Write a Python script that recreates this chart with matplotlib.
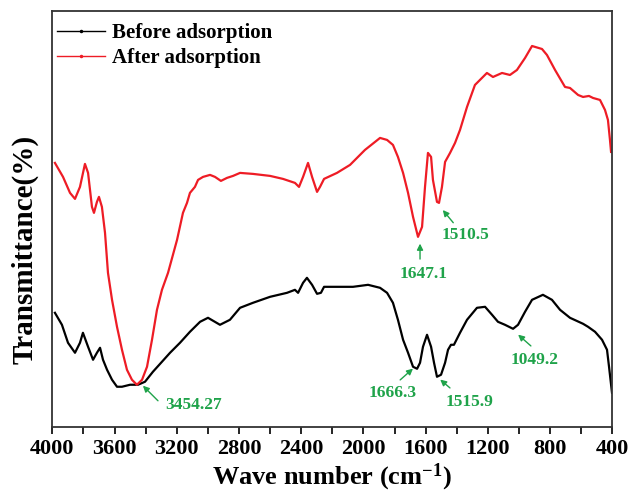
import numpy as np
import matplotlib.pyplot as plt
from matplotlib.lines import Line2D

plt.rcParams['font.family'] = ['Liberation Serif', 'DejaVu Serif']
plt.rcParams['font.weight'] = 'bold'
plt.rcParams['mathtext.fontset'] = 'custom'
plt.rcParams['mathtext.rm'] = 'Liberation Serif:bold'
plt.rcParams['mathtext.bf'] = 'Liberation Serif:bold'
plt.rcParams['mathtext.default'] = 'bf'

# wave number (cm-1) and transmittance (arbitrary units)
before_x = [3983, 3938, 3899, 3854, 3822, 3803, 3770, 3738, 3713, 3693, 3674, 3648, 3616, 3584, 3552,
            3500, 3449, 3404, 3353, 3295, 3243, 3179, 3115, 3050, 2999, 2922, 2858, 2793, 2710, 2600,
            2491, 2440, 2420, 2388, 2363, 2330, 2298, 2273, 2253, 2170, 2067, 1970, 1893, 1848, 1810,
            1778, 1745, 1713, 1681, 1655, 1636, 1617, 1591, 1565, 1546, 1527, 1501, 1475, 1456, 1437,
            1418, 1379, 1334, 1270, 1218, 1173, 1135, 1090, 1038, 1006, 961, 916, 846, 788, 736,
            672, 588, 556, 511, 466, 434, 421, 402]
before_y = [114, 102, 84, 74, 84, 94, 80, 67, 74, 79, 67, 57, 47, 40, 40,
            42, 42, 45, 55, 65, 74, 84, 95, 105, 109, 102, 107, 119, 124, 130,
            134, 137, 134, 144, 149, 142, 133, 134, 140, 140, 140, 142, 139, 134, 124,
            107, 87, 74, 60, 58, 64, 80, 92, 80, 64, 50, 52, 64, 77, 82,
            82, 94, 107, 119, 120, 112, 105, 102, 98, 102, 115, 127, 132, 127, 117,
            109, 103, 100, 95, 87, 77, 60, 34]

after_x = [3983, 3931, 3886, 3854, 3822, 3790, 3770, 3745, 3732, 3713, 3700, 3681, 3661, 3642, 3616,
           3584, 3552, 3520, 3488, 3456, 3423, 3391, 3359, 3327, 3295, 3256, 3198, 3160, 3134, 3115,
           3083, 3063, 3031, 2986, 2954, 2916, 2877, 2838, 2793, 2710, 2600, 2517, 2440, 2414, 2388,
           2356, 2330, 2298, 2279, 2253, 2170, 2086, 1990, 1893, 1848, 1810, 1778, 1745, 1713, 1681,
           1649, 1623, 1604, 1585, 1565, 1553, 1527, 1514, 1495, 1475, 1443, 1411, 1379, 1334, 1283,
           1206, 1167, 1109, 1058, 1013, 961, 916, 852, 820, 768, 704, 672, 620, 588, 550,
           524, 479, 447, 428, 415, 408]
after_y = [264, 250, 234, 228, 240, 263, 254, 220, 214, 225, 230, 220, 194, 154, 127,
           100, 77, 57, 47, 42, 47, 60, 87, 117, 137, 154, 187, 214, 224, 234,
           240, 247, 250, 252, 250, 246, 249, 251, 254, 253, 251, 248, 244, 240, 250,
           264, 250, 235, 240, 248, 254, 262, 277, 289, 287, 282, 270, 254, 234, 210,
           190, 200, 240, 274, 270, 247, 225, 224, 240, 265, 274, 284, 297, 320, 342,
           354, 350, 354, 352, 357, 369, 381, 378, 372, 357, 340, 339, 332, 330, 331,
           329, 327, 317, 307, 287, 275]

# peak labels: text, arrow head (x, y), arrow tail (x, y), text position (x, y)
peak_labels = ['3454.27', '1647.1', '1510.5', '1666.3', '1515.9', '1049.2']
peak_heads = [(3430, 43), (1636, 186), (1501, 219), (1668, 60), (1520, 49), (1019, 94)]
peak_tails = [(3308, 24), (1636, 165), (1411, 202), (1777, 45), (1430, 37), (910, 79)]
peak_texts = [(3089, 22), (1610, 153), (1347, 192), (1810, 34), (1315, 25), (897, 67)]

fig = plt.figure(figsize=(6.33, 4.94), dpi=100)
ax = fig.add_axes([0.0826, 0.1362, 0.8847, 0.8415])

ax.plot(before_x, before_y, color='black', lw=1.6)
ax.plot(after_x, after_y, color='#ee1c25', lw=1.6)

green = '#1fa34a'
for lab, head, tail, pos in zip(peak_labels, peak_heads, peak_tails, peak_texts):
    ax.annotate('', xy=head, xytext=tail,
                arrowprops=dict(arrowstyle='-|>', color=green, lw=1, mutation_scale=9))
    ax.text(pos[0], pos[1], lab, color=green, fontsize=12.5, fontweight='bold',
            ha='center', va='center')

ax.set_xlim(4000, 400)
ax.set_ylim(0, 416)
ax.set_xticks(np.arange(4000, 399, -400))
ax.set_xticks(np.arange(4000, 399, -200), minor=True)
ax.set_yticks([])
ax.tick_params(axis='x', which='both', direction='out', length=5, width=1.2, labelsize=16)
for lab in ax.get_xticklabels():
    lab.set_fontweight('bold')
for s in ax.spines.values():
    s.set_linewidth(1.3)
    s.set_color('#333333')

ax.set_xlabel('Wave number (cm$^{-1}$)', fontsize=19, fontweight='bold', labelpad=2)
ax.set_ylabel('Transmittance(%)', fontsize=21, fontweight='bold')
ax.yaxis.set_label_coords(-0.025, 0.426)

handles = [Line2D([], [], color='black', lw=1, marker='.', ms=3),
           Line2D([], [], color='#ee1c25', lw=1, marker='.', ms=3)]
ax.legend(handles, ['Before adsorption', 'After adsorption'], loc='upper left',
          bbox_to_anchor=(0.0, 0.983), frameon=False,
          prop={'size': 15, 'weight': 'bold'}, handlelength=2.3,
          handletextpad=0.3, borderaxespad=0.0, borderpad=0.25, labelspacing=0.25)

fig.savefig('out.png', dpi=100)
